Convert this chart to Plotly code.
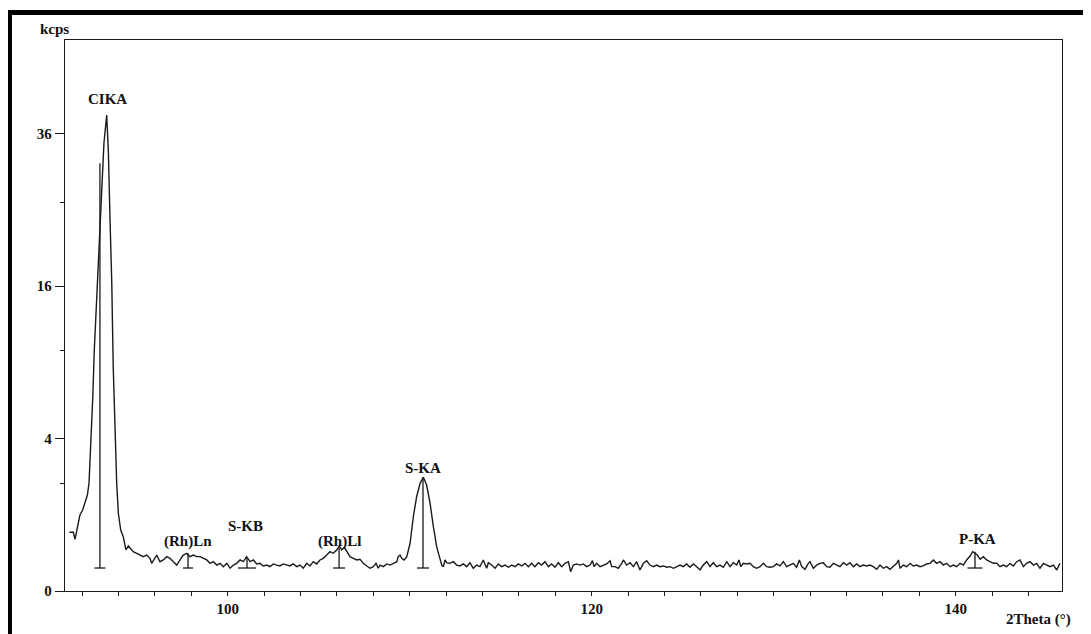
import numpy as np
import plotly.graph_objects as go

# ---- spectrum (2Theta in degrees, intensity in kcps) ----
two_theta = [
    91.30, 91.52, 91.61, 91.79, 91.88, 92.03, 92.16, 92.29, 92.38, 92.47,
    92.58, 92.67, 92.80, 92.95, 93.08, 93.20, 93.35, 93.44, 93.53, 93.63,
    93.71, 93.81, 93.90, 93.99, 94.12, 94.26,
    94.41, 94.54, 94.63, 94.81, 95.00, 95.18, 95.36, 95.55, 95.73, 95.82,
    96.01, 96.10, 96.28, 96.46, 96.65, 96.83, 97.01, 97.20, 97.38, 97.56,
    97.75, 97.93, 98.11, 98.30, 98.48, 98.66, 98.85, 99.03, 99.21, 99.40,
    99.58, 99.76, 99.95, 100.13, 100.31, 100.49, 100.68, 100.86, 101.04, 101.23,
    101.41, 101.59, 101.77, 101.96, 102.14, 102.32, 102.51, 102.69, 102.87, 103.05,
    103.24, 103.42, 103.60, 103.79, 103.97, 104.15, 104.34, 104.52, 104.70, 104.89,
    105.07, 105.25, 105.44, 105.62, 105.80, 105.99, 106.13, 106.26, 106.41, 106.54,
    106.72, 106.90, 107.09, 107.27, 107.45, 107.64, 107.82, 108.00, 108.15, 108.27,
    108.37, 108.55, 108.74, 108.92, 109.10, 109.29, 109.37, 109.47, 109.56, 109.69,
    109.84, 110.02, 110.20, 110.38, 110.57, 110.75, 110.93, 111.12, 111.30, 111.48,
    111.63, 111.76, 111.85, 111.94, 112.03, 112.21, 112.40, 112.58, 112.76, 112.95,
    113.13, 113.31, 113.49, 113.68, 113.86, 114.04, 114.23,
    114.32, 114.50, 114.69, 114.87, 115.05, 115.24, 115.42, 115.60, 115.79, 115.97,
    116.15, 116.34, 116.52, 116.70, 116.88, 117.07, 117.25, 117.43, 117.62, 117.80,
    117.98, 118.17, 118.35, 118.53, 118.72, 118.84, 118.99, 119.17, 119.36, 119.54,
    119.72, 119.91, 120.04, 120.13, 120.27, 120.46, 120.64, 120.82, 121.01, 121.10,
    121.28, 121.46, 121.65, 121.74, 121.92, 122.11, 122.29, 122.47, 122.65, 122.84,
    123.02, 123.20, 123.39, 123.57, 123.75, 123.94, 124.12, 124.30, 124.49, 124.67,
    124.85, 125.03, 125.22, 125.40, 125.58, 125.77, 125.95, 126.13, 126.32, 126.50,
    126.68, 126.87, 127.05, 127.23, 127.42, 127.60, 127.78, 127.97, 128.09, 128.19,
    128.33, 128.51, 128.70, 128.88, 129.06, 129.25, 129.43, 129.61, 129.80, 129.98,
    130.16, 130.35, 130.53, 130.71, 130.90, 131.08, 131.26, 131.41, 131.54, 131.72,
    131.90, 131.99, 132.18, 132.36, 132.54, 132.73, 132.91, 133.09, 133.28, 133.46,
    133.64, 133.83, 134.01, 134.19, 134.38, 134.56, 134.74, 134.92, 135.11,
    135.29, 135.47, 135.66, 135.84, 136.02, 136.21, 136.39, 136.57, 136.76, 136.85,
    136.94, 137.12, 137.31, 137.49, 137.67, 137.86, 138.04, 138.22, 138.40, 138.59,
    138.77, 138.95, 139.14, 139.32, 139.50, 139.69, 139.87, 140.05, 140.24, 140.42,
    140.60, 140.79, 140.93, 141.06, 141.19, 141.34, 141.52, 141.70, 141.88, 142.07,
    142.25, 142.43, 142.62, 142.80, 142.98, 143.17, 143.35, 143.53, 143.72, 143.90,
    144.08, 144.27, 144.45, 144.63, 144.82, 145.00, 145.18, 145.37, 145.55, 145.64,
    145.73,
]
kcps = [
    0.593, 0.593, 0.460, 0.789, 0.995, 1.130, 1.373, 1.587, 2.009, 3.420,
    6.280, 10.00, 14.58, 22.07, 28.67, 34.56, 39.00, 33.49, 24.13, 16.34,
    8.660, 4.300, 2.010, 1.048, 0.641, 0.508,
    0.290, 0.349, 0.314, 0.266, 0.245, 0.223, 0.203, 0.223, 0.184, 0.132,
    0.184, 0.223, 0.148, 0.166, 0.203, 0.184, 0.148, 0.116, 0.166, 0.223,
    0.245, 0.203, 0.223, 0.203, 0.203, 0.184, 0.166, 0.132, 0.148, 0.116,
    0.132, 0.102, 0.132, 0.089, 0.116, 0.132, 0.166, 0.148, 0.203, 0.148,
    0.166, 0.126, 0.132, 0.108, 0.116, 0.102, 0.126, 0.116, 0.108, 0.126,
    0.116, 0.108, 0.126, 0.102, 0.116, 0.089, 0.132, 0.108, 0.148, 0.126,
    0.166, 0.184, 0.223, 0.266, 0.245, 0.290, 0.349, 0.290, 0.329, 0.266,
    0.203, 0.184, 0.166, 0.173, 0.132, 0.108, 0.089, 0.102, 0.132, 0.089,
    0.116, 0.102, 0.126, 0.116, 0.132, 0.148, 0.203, 0.223, 0.184, 0.166,
    0.203, 0.392, 0.951, 1.531, 1.998, 2.226, 1.935, 1.325, 0.712, 0.338,
    0.203, 0.116, 0.102, 0.166, 0.138, 0.132, 0.148, 0.116, 0.108, 0.126,
    0.102, 0.138, 0.089, 0.116, 0.102, 0.166, 0.089,
    0.138, 0.116, 0.089, 0.126, 0.102, 0.116, 0.097, 0.116, 0.102, 0.126,
    0.108, 0.132, 0.102, 0.132, 0.102, 0.138, 0.116, 0.148, 0.102, 0.126,
    0.097, 0.138, 0.102, 0.132, 0.148, 0.064, 0.116, 0.126, 0.116, 0.126,
    0.102, 0.116, 0.158, 0.102, 0.132, 0.102, 0.116, 0.126, 0.158, 0.102,
    0.102, 0.089, 0.132, 0.166, 0.116, 0.138, 0.102, 0.148, 0.076, 0.132,
    0.158, 0.116, 0.102, 0.116, 0.102, 0.108, 0.097, 0.102, 0.089, 0.102,
    0.116, 0.102, 0.126, 0.097, 0.126, 0.102, 0.076, 0.116, 0.148, 0.102,
    0.138, 0.102, 0.116, 0.097, 0.148, 0.102, 0.138, 0.116, 0.166, 0.102,
    0.132, 0.126, 0.132, 0.102, 0.089, 0.102, 0.132, 0.102, 0.097, 0.102,
    0.126, 0.108, 0.148, 0.102, 0.116, 0.132, 0.097, 0.166, 0.102, 0.081,
    0.132, 0.148, 0.089, 0.116, 0.132, 0.138, 0.102, 0.097, 0.132, 0.116,
    0.102, 0.138, 0.116, 0.138, 0.102, 0.126, 0.102, 0.116, 0.108,
    0.116, 0.102, 0.081, 0.116, 0.089, 0.102, 0.081, 0.108, 0.132, 0.166,
    0.089, 0.116, 0.102, 0.132, 0.108, 0.116, 0.102, 0.108, 0.126, 0.132,
    0.166, 0.132, 0.148, 0.116, 0.132, 0.102, 0.116, 0.102, 0.132, 0.116,
    0.166, 0.211, 0.266, 0.245, 0.223, 0.173, 0.203, 0.166, 0.148, 0.132,
    0.132, 0.102, 0.116, 0.102, 0.132, 0.108, 0.148, 0.166, 0.102, 0.132,
    0.148, 0.116, 0.132, 0.089, 0.132, 0.116, 0.102, 0.116, 0.076, 0.102,
    0.132,
]

# ---- identified peaks ----
peak_labels = ["CIKA", "(Rh)Ln", "S-KB", "(Rh)Ll", "S-KA", "P-KA"]
peak_pos = [92.98, 97.82, 101.06, 106.12, 110.73, 141.06]
peak_top = [31.5, 0.245, 0.188, 0.318, 2.24, 0.266]
peak_foot = 0.091
peak_halfwidth = [0.30, 0.28, 0.50, 0.33, 0.33, 0.41]
label_pos = [93.37, 97.82, 101.0, 106.12, 110.73, 141.17]
label_level = [41.7, 0.43, 0.73, 0.43, 2.61, 0.466]

# ---- axis ticks ----
y_ticks = [0, 4, 16, 36]
y_minor = [2, 10, 26]
x_ticks = [100, 120, 140]

sq = np.sqrt  # the chart uses a square-root intensity scale

fig = go.Figure()
fig.add_trace(go.Scatter(x=two_theta, y=sq(np.array(kcps)), mode="lines",
                         line=dict(color="#1a1a1a", width=1.4),
                         hoverinfo="skip", showlegend=False))

mx, my = [], []
for p, t, h in zip(peak_pos, peak_top, peak_halfwidth):
    mx += [p, p, None, p - h, p + h, None]
    my += [sq(t), sq(peak_foot), None, sq(peak_foot), sq(peak_foot), None]
fig.add_trace(go.Scatter(x=mx, y=my, mode="lines",
                         line=dict(color="#1a1a1a", width=1.3),
                         hoverinfo="skip", showlegend=False))

lab_font = dict(family="Liberation Serif", size=15, color="#111", weight="bold")
for txt, lx, ly in zip(peak_labels, label_pos, label_level):
    fig.add_annotation(x=lx, y=float(sq(ly)), text=txt, showarrow=False,
                       font=lab_font, xanchor="center", yanchor="middle")

fig.add_annotation(x=-0.011, y=1.02, xref="paper", yref="paper", text="kcps",
                   showarrow=False, font=lab_font, xanchor="center", yanchor="middle")
fig.add_annotation(x=1.011, y=-0.051, xref="paper", yref="paper", text="2Theta (°)",
                   showarrow=False, font=lab_font, xanchor="right", yanchor="middle")

# black scan border (top and left)
fig.add_shape(type="rect", xref="paper", yref="paper", x0=-0.0582, x1=1.05,
              y0=1.0454, y1=1.0544, fillcolor="black", line_width=0, layer="above")
fig.add_shape(type="rect", xref="paper", yref="paper", x0=-0.0582, x1=-0.0532,
              y0=-0.1, y1=1.0544, fillcolor="black", line_width=0, layer="above")

tick_font = dict(family="Liberation Serif", size=15, color="#111", weight="bold")
fig.update_xaxes(range=[91.06, 145.84], tickmode="array", tickvals=x_ticks,
                 ticks="outside", ticklen=4, tickcolor="#1a1a1a", tickwidth=1.2,
                 showline=True, linecolor="#1a1a1a", linewidth=1.3, mirror=True,
                 showgrid=False, zeroline=False, tickfont=tick_font,
                 minor=dict(dtick=2, tick0=100, ticks="outside", ticklen=4,
                            tickcolor="#1a1a1a", tickwidth=1.2, showgrid=False))
fig.update_yaxes(range=[0, 7.231], tickmode="array",
                 tickvals=[float(sq(v)) for v in y_ticks],
                 ticktext=[str(v) for v in y_ticks],
                 ticks="outside", ticklen=9, tickcolor="#1a1a1a", tickwidth=1.2,
                 showline=True, linecolor="#1a1a1a", linewidth=1.3, mirror=True,
                 showgrid=False, zeroline=False, tickfont=tick_font,
                 minor=dict(tickmode="array", tickvals=[float(sq(v)) for v in y_minor],
                            ticks="outside", ticklen=4, tickcolor="#1a1a1a",
                            tickwidth=1.2, showgrid=False))

# the page adds an 8 px body margin, so the figure is 8 px smaller on each side
fig.update_layout(width=1083, height=626, margin=dict(l=57, r=29, t=32, b=43),
                  paper_bgcolor="white", plot_bgcolor="white", showlegend=False)

fig.write_html("out.html")
